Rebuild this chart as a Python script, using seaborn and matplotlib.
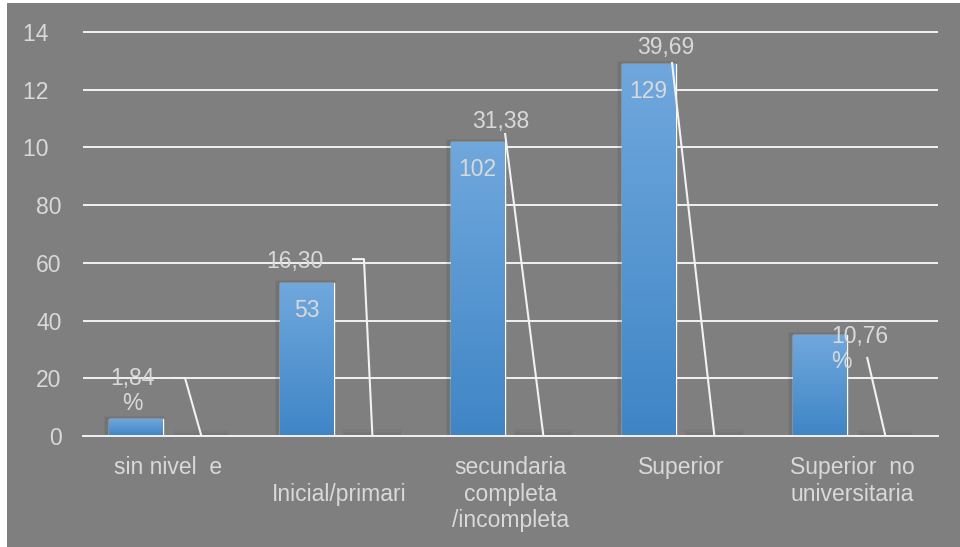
import numpy as np
import pandas as pd
import matplotlib
matplotlib.use("Agg")
import matplotlib.pyplot as plt
import matplotlib.patheffects as pe
from matplotlib.colors import LinearSegmentedColormap
from matplotlib.patches import Rectangle
import seaborn as sns

# ---- data -------------------------------------------------------------
categorias = ["sin nivel  e", "\nInicial/primari", "secundaria\ncompleta\n/incompleta",
              "Superior", "Superior  no\nuniversitaria"]
frecuencia = [6, 53, 102, 129, 35]
porcentaje = [1.84, 16.30, 31.38, 39.69, 10.76]
sufijo_pct = ["\n%", "", "", "", "\n%"]
mostrar_frecuencia = [False, True, True, True, False]
y_ticks = [0, 20, 40, 60, 80, 100, 120, 140]
y_tick_labels = ["0", "20", "40", "60", "80", "10\u2007", "12\u2007", "14\u2007"]

# ---- label layout (data coordinates) ----------------------------------
pct_text_xy = [(-0.213, 15.6), (0.740, 60.3), (1.944, 109.1), (2.906, 134.8), (3.874, 30.1)]
pct_text_ha = ["center", "center", "center", "center", "left"]
leader_start = [(0.0205, 20.1), (1.073, 61.3), (1.968, 105.0), (2.944, 129.6), (4.085, 27.4)]
leader_elbow = [(0.0965, 20.1), (1.143, 61.3), None, None, None]

BG = "#7f7f7f"
TXT = "#d9d9d9"
LINE = "#f2f2f2"
FS = 16.5

sns.set_style("white", {"axes.facecolor": BG, "grid.color": LINE})
plt.rcParams["font.family"] = ["Liberation Sans", "DejaVu Sans"]

fig = plt.figure(figsize=(9.6, 5.47), dpi=100, facecolor="white")
fig.patches.append(Rectangle((7 / 960, 0), 1 - 7 / 960, 1 - 3 / 547,
                             transform=fig.transFigure, facecolor=BG,
                             edgecolor="none", zorder=-10))
ax = fig.add_axes([83 / 960, 1 - 436 / 547, (938 - 83) / 960, 0.7412])

df = pd.DataFrame({
    "categoria": categorias * 2,
    "serie": ["Frecuencia"] * 5 + ["Porcentaje"] * 5,
    "valor": frecuencia + [p / 100 for p in porcentaje],
})

sns.barplot(data=df, x="categoria", y="valor", hue="serie",
            palette=["#4a90d0", BG], width=0.77, gap=0.18,
            saturation=1, errorbar=None, legend=False, ax=ax)

# gradient fill and soft shadow for the frequency bars
cmap = LinearSegmentedColormap.from_list("azul", ["#3f85c6", "#70a8dd"])
grad = np.linspace(0, 1, 256).reshape(-1, 1)
for p in ax.containers[0]:
    p.set_path_effects([
        pe.Stroke(offset=(-1, 0), linewidth=5, foreground="black", alpha=0.04),
        pe.Stroke(offset=(-1, 0), linewidth=3, foreground="black", alpha=0.05),
        pe.Normal(),
    ])
    x0, w, h = p.get_x(), p.get_width(), p.get_height()
    im = ax.imshow(grad, cmap=cmap, extent=(x0, x0 + w, 0, h), origin="lower",
                   aspect="auto", interpolation="bicubic", zorder=p.get_zorder() + 0.1)
    im.set_clip_path(p)

# percentage series: near-zero bars, only a faint shadow smear shows
for p in ax.containers[1]:
    p.set_facecolor((0, 0, 0, 0))
    p.set_edgecolor("none")
    p.set_path_effects([
        pe.Stroke(offset=(0, 2.2), linewidth=4, foreground="black", alpha=0.035),
        pe.Stroke(offset=(0, 1.5), linewidth=2, foreground="black", alpha=0.035),
    ])

ax.set_xlim(-0.5, 4.5)
ax.set_ylim(0, 140.5)
ax.set_aspect("auto")

ax.set_yticks(y_ticks)
ax.set_yticklabels(y_tick_labels)
ax.set_xticks(range(len(categorias)))
ax.set_xticklabels(categorias)
ax.tick_params(axis="y", length=0, pad=15.5, labelsize=FS, labelcolor=TXT)
ax.tick_params(axis="x", length=0, pad=14.5, labelsize=FS, labelcolor=TXT)
ax.set_xlabel("")
ax.set_ylabel("")

ax.yaxis.grid(True, color=LINE, linewidth=1.4)
ax.xaxis.grid(False)
ax.set_axisbelow(True)
for s in ["top", "left", "right"]:
    ax.spines[s].set_visible(False)
ax.spines["bottom"].set_color(LINE)
ax.spines["bottom"].set_linewidth(1.4)
ax.spines["bottom"].set_zorder(5)

# count labels inside the bars
for p, v, show in zip(ax.containers[0], frecuencia, mostrar_frecuencia):
    if show:
        ax.annotate(str(v), xy=(p.get_x() + p.get_width() / 2, p.get_height()),
                    xytext=(0, -20), textcoords="offset points",
                    ha="center", va="center", fontsize=FS, color=TXT, zorder=6)

# percentage labels with leader lines down to the percentage bars
for i, p in enumerate(ax.containers[1]):
    txt = f"{porcentaje[i]:.2f}".replace(".", ",") + sufijo_pct[i]
    tx, ty = pct_text_xy[i]
    ax.text(tx, ty, txt, ha=pct_text_ha[i], va="center", fontsize=FS,
            color=TXT, linespacing=1.1, zorder=6)
    end = (p.get_x() + p.get_width() / 2, p.get_y())
    pts = [leader_start[i]]
    if leader_elbow[i] is not None:
        pts.append(leader_elbow[i])
    pts.append(end)
    xs, ys = zip(*pts)
    ax.plot(xs, ys, color=LINE, linewidth=1.5, zorder=5, solid_capstyle="butt")

fig.savefig("out.png", dpi=100, facecolor=fig.get_facecolor())
